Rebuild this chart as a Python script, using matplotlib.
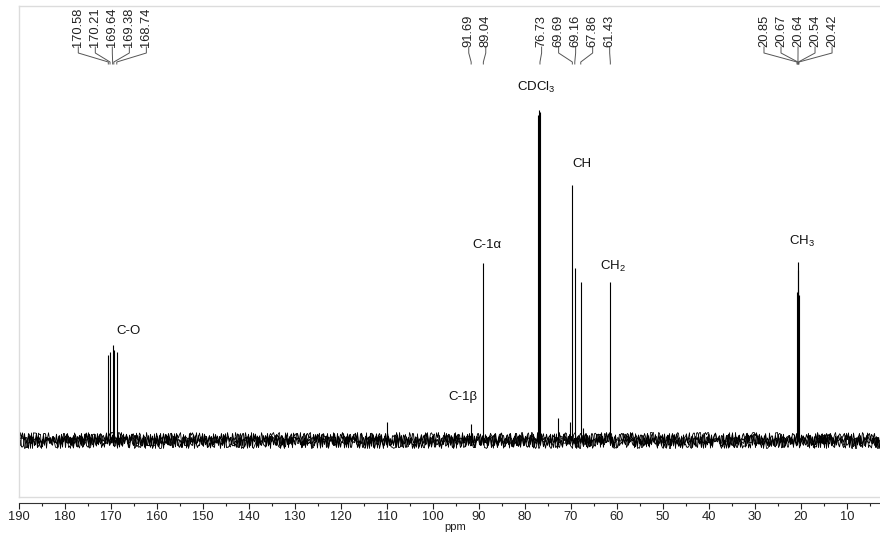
import matplotlib.pyplot as plt
import numpy as np

plt.rcParams['font.family'] = ['Liberation Sans', 'DejaVu Sans']
plt.rcParams['mathtext.fontset'] = 'custom'
plt.rcParams['mathtext.rm'] = 'Liberation Sans'

# picked peaks (ppm) and heights (arbitrary units, baseline = 0)
co_ppm = [170.58, 170.21, 169.64, 169.38, 168.74]
co_h = [85, 88, 95, 90, 88]
c1_ppm = [91.69, 89.04]
c1_h = [16, 177]
mid_ppm = [76.73, 69.69, 69.16, 67.86, 61.43]
mid_h = [328, 255, 172, 158, 158]
ch3_ppm = [20.85, 20.67, 20.64, 20.54, 20.42]
ch3_h = [148, 178, 170, 150, 145]

# unlabelled lines: solvent triplet partners and small impurities
extra_ppm = [77.25, 77.00, 110.0, 72.9, 70.2, 67.3]
extra_h = [325, 330, 18, 22, 18, 12]

groups = [co_ppm, c1_ppm, mid_ppm, ch3_ppm]

assign = [('C-O', 166.3, 109), ('C-1α', 88.3, 195), ('C-1β', 93.6, 43),
          (r'CDCl$_\mathrm{3}$', 77.5, 353), ('CH', 67.7, 276), (r'CH$_\mathrm{2}$', 60.9, 174),
          (r'CH$_\mathrm{3}$', 19.8, 199)]

fig = plt.figure(figsize=(8.8, 5.36), dpi=100)
W, H = 880, 536
x0, x1 = 190, 2.8
ax = fig.add_axes([19 / W, 1 - 497 / H, 1 - 19 / W, (497 - 6) / H])
ax.set_xlim(x0, x1)
ax.set_ylim(-57, 434)
for s in ['left', 'top', 'bottom']:
    ax.spines[s].set_color('#dcdcdc')
    ax.spines[s].set_linewidth(1.0)
ax.spines['right'].set_visible(False)
ax.set_xticks([])
ax.set_yticks([])

# noisy baseline (jagged look comes from the line's sketch style)
for lw, sc, ln in [(0.7, 7, 0.5), (0.7, 5, 0.4), (0.6, 8, 0.7), (0.6, 3, 0.3)]:
    base, = ax.plot([x0, x1], [0, 0], color='k', lw=lw)
    base.set_sketch_params(scale=sc, length=ln, randomness=2)

allp = co_ppm + c1_ppm + mid_ppm + ch3_ppm + extra_ppm
allh = co_h + c1_h + mid_h + ch3_h + extra_h
ax.vlines(allp, 0, allh, color='k', lw=0.8)

# peak-pick labels at the top
step = 3.7
for g in groups:
    c = np.mean(g)
    n = len(g)
    for i, p in enumerate(g):
        lx = c + (n - 1) / 2 * step - i * step
        ax.plot([lx, lx, p, p], [393, 387, 378, 376], color='#555555', lw=0.7)
        ax.text(lx, 393, '%.2f' % p, rotation=90, ha='center', va='bottom',
                fontsize=9.3, color='#222222')

for t, x, y in assign:
    ax.text(x, y, t, ha='center', va='center', fontsize=9.5, color='#111111')

# ppm scale
sx = fig.add_axes([19 / W, 1 - 503 / H, 1 - 19 / W, 0.0001])
sx.set_xlim(x0, x1)
sx.set_yticks([])
for s in ['left', 'top', 'right']:
    sx.spines[s].set_visible(False)
sx.spines['bottom'].set_color('#333333')
sx.spines['bottom'].set_linewidth(0.8)
sx.set_xticks(np.arange(190, 0, -10))
sx.set_xticks(np.arange(185, 0, -10), minor=True)
sx.tick_params(axis='x', which='major', length=4, width=0.8, pad=2, labelsize=9.3, colors='#222222')
sx.tick_params(axis='x', which='minor', length=2, width=0.8, colors='#222222')
fig.text(455 / W, 1 - 527 / H, 'ppm', ha='center', va='center', fontsize=8, color='#222222')

fig.savefig('out.png', dpi=100)
